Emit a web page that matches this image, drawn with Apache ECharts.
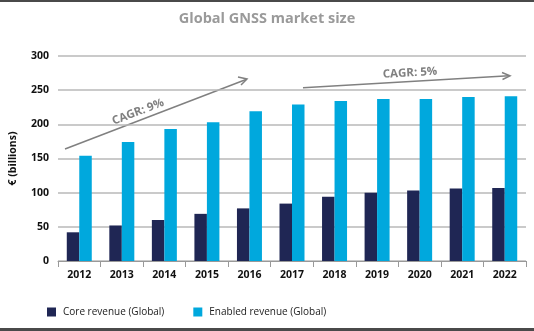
<!DOCTYPE html>
<html><head><meta charset="utf-8">
<script src="https://cdn.jsdelivr.net/npm/echarts@6/dist/echarts.min.js"></script>
<style>html,body{margin:0;padding:0;background:#fff}#c{width:534px;height:331px}</style>
</head><body><div id="c"></div>
<script>
const years = ['2012','2013','2014','2015','2016','2017','2018','2019','2020','2021','2022'];
const coreRevenue = [42, 52, 60, 69, 77, 84, 94, 100, 103, 106, 107];
const enabledRevenue = [154, 174, 193, 203, 219, 229, 234, 237, 237, 240, 241];
const yTicks = {min: 0, max: 300, interval: 50};
const seriesNames = ['Core revenue (Global)', 'Enabled revenue (Global)'];
const FONT = '"Open Sans", "Noto Sans", sans-serif';

const chart = echarts.init(document.getElementById('c'), null, {renderer: 'canvas'});
chart.setOption({
  animation: false,
  title: {
    text: 'Global GNSS market size', left: 262, top: 6, textAlign: 'center',
    textStyle: {fontFamily: FONT, fontSize: 14.5, fontWeight: 'bold', color: '#9a9a9a'}
  },
  legend: {
    left: 42, top: 302, itemWidth: 9, itemHeight: 9, itemGap: 29,
    icon: 'rect',
    textStyle: {fontFamily: FONT, fontSize: 10, color: '#1a1a1a', padding: [0, 0, 0, 2]},
    data: seriesNames
  },
  grid: {left: 47, right: 8, top: 56, bottom: 70, containLabel: false},
  xAxis: {
    type: 'category', data: years,
    axisLine: {lineStyle: {color: '#999', width: 1}},
    axisTick: {show: true, length: 6, lineStyle: {color: '#999'}},
    axisLabel: {fontFamily: FONT, fontSize: 10.5, fontWeight: 'bold', color: '#111', margin: 9}
  },
  yAxis: {
    type: 'value', min: yTicks.min, max: yTicks.max, interval: yTicks.interval,
    name: '€ (billions)', nameLocation: 'middle', nameGap: 39, nameRotate: 90,
    nameTextStyle: {fontFamily: FONT, fontSize: 10.5, fontWeight: 'bold', color: '#111'},
    axisLine: {show: false}, axisTick: {show: false},
    axisLabel: {fontFamily: FONT, fontSize: 10.5, fontWeight: 'bold', color: '#111', margin: 9},
    splitLine: {lineStyle: {color: '#b9b9b9', width: 1.5}}
  },
  series: [
    {name: seriesNames[0], type: 'bar', data: coreRevenue, barWidth: 12.5, barGap: '0%',
     itemStyle: {color: '#1f2654'}},
    {name: seriesNames[1], type: 'bar', data: enabledRevenue, barWidth: 12.5,
     itemStyle: {color: '#00a8dd'}}
  ],
  graphic: [
    {type: 'rect', shape: {x: 0, y: 0, width: 534, height: 2}, style: {fill: '#4a4a4a'}},
    {type: 'rect', shape: {x: 0, y: 328, width: 534, height: 3}, style: {fill: '#4a4a4a'}},
    {type: 'line', shape: {x1: 65, y1: 149, x2: 246, y2: 79.5}, style: {stroke: '#808080', lineWidth: 1.5}},
    {type: 'polyline', shape: {points: [[238, 77], [247, 79], [241, 85]]}, style: {stroke: '#808080', lineWidth: 1.5, fill: null}},
    {type: 'text', x: 138, y: 112, rotation: 21 * Math.PI / 180,
     style: {text: 'CAGR: 9%', fontFamily: FONT, fontSize: 11.5, fontWeight: 'bold', fill: '#808080', align: 'center', verticalAlign: 'middle'}},
    {type: 'line', shape: {x1: 303, y1: 87.7, x2: 509, y2: 75.8}, style: {stroke: '#808080', lineWidth: 1.5}},
    {type: 'polyline', shape: {points: [[502, 72.5], [510, 75.8], [502.5, 79.5]]}, style: {stroke: '#808080', lineWidth: 1.5, fill: null}},
    {type: 'text', x: 410, y: 73, rotation: 3.3 * Math.PI / 180,
     style: {text: 'CAGR: 5%', fontFamily: FONT, fontSize: 11.5, fontWeight: 'bold', fill: '#808080', align: 'center', verticalAlign: 'middle'}}
  ]
});
</script></body></html>
